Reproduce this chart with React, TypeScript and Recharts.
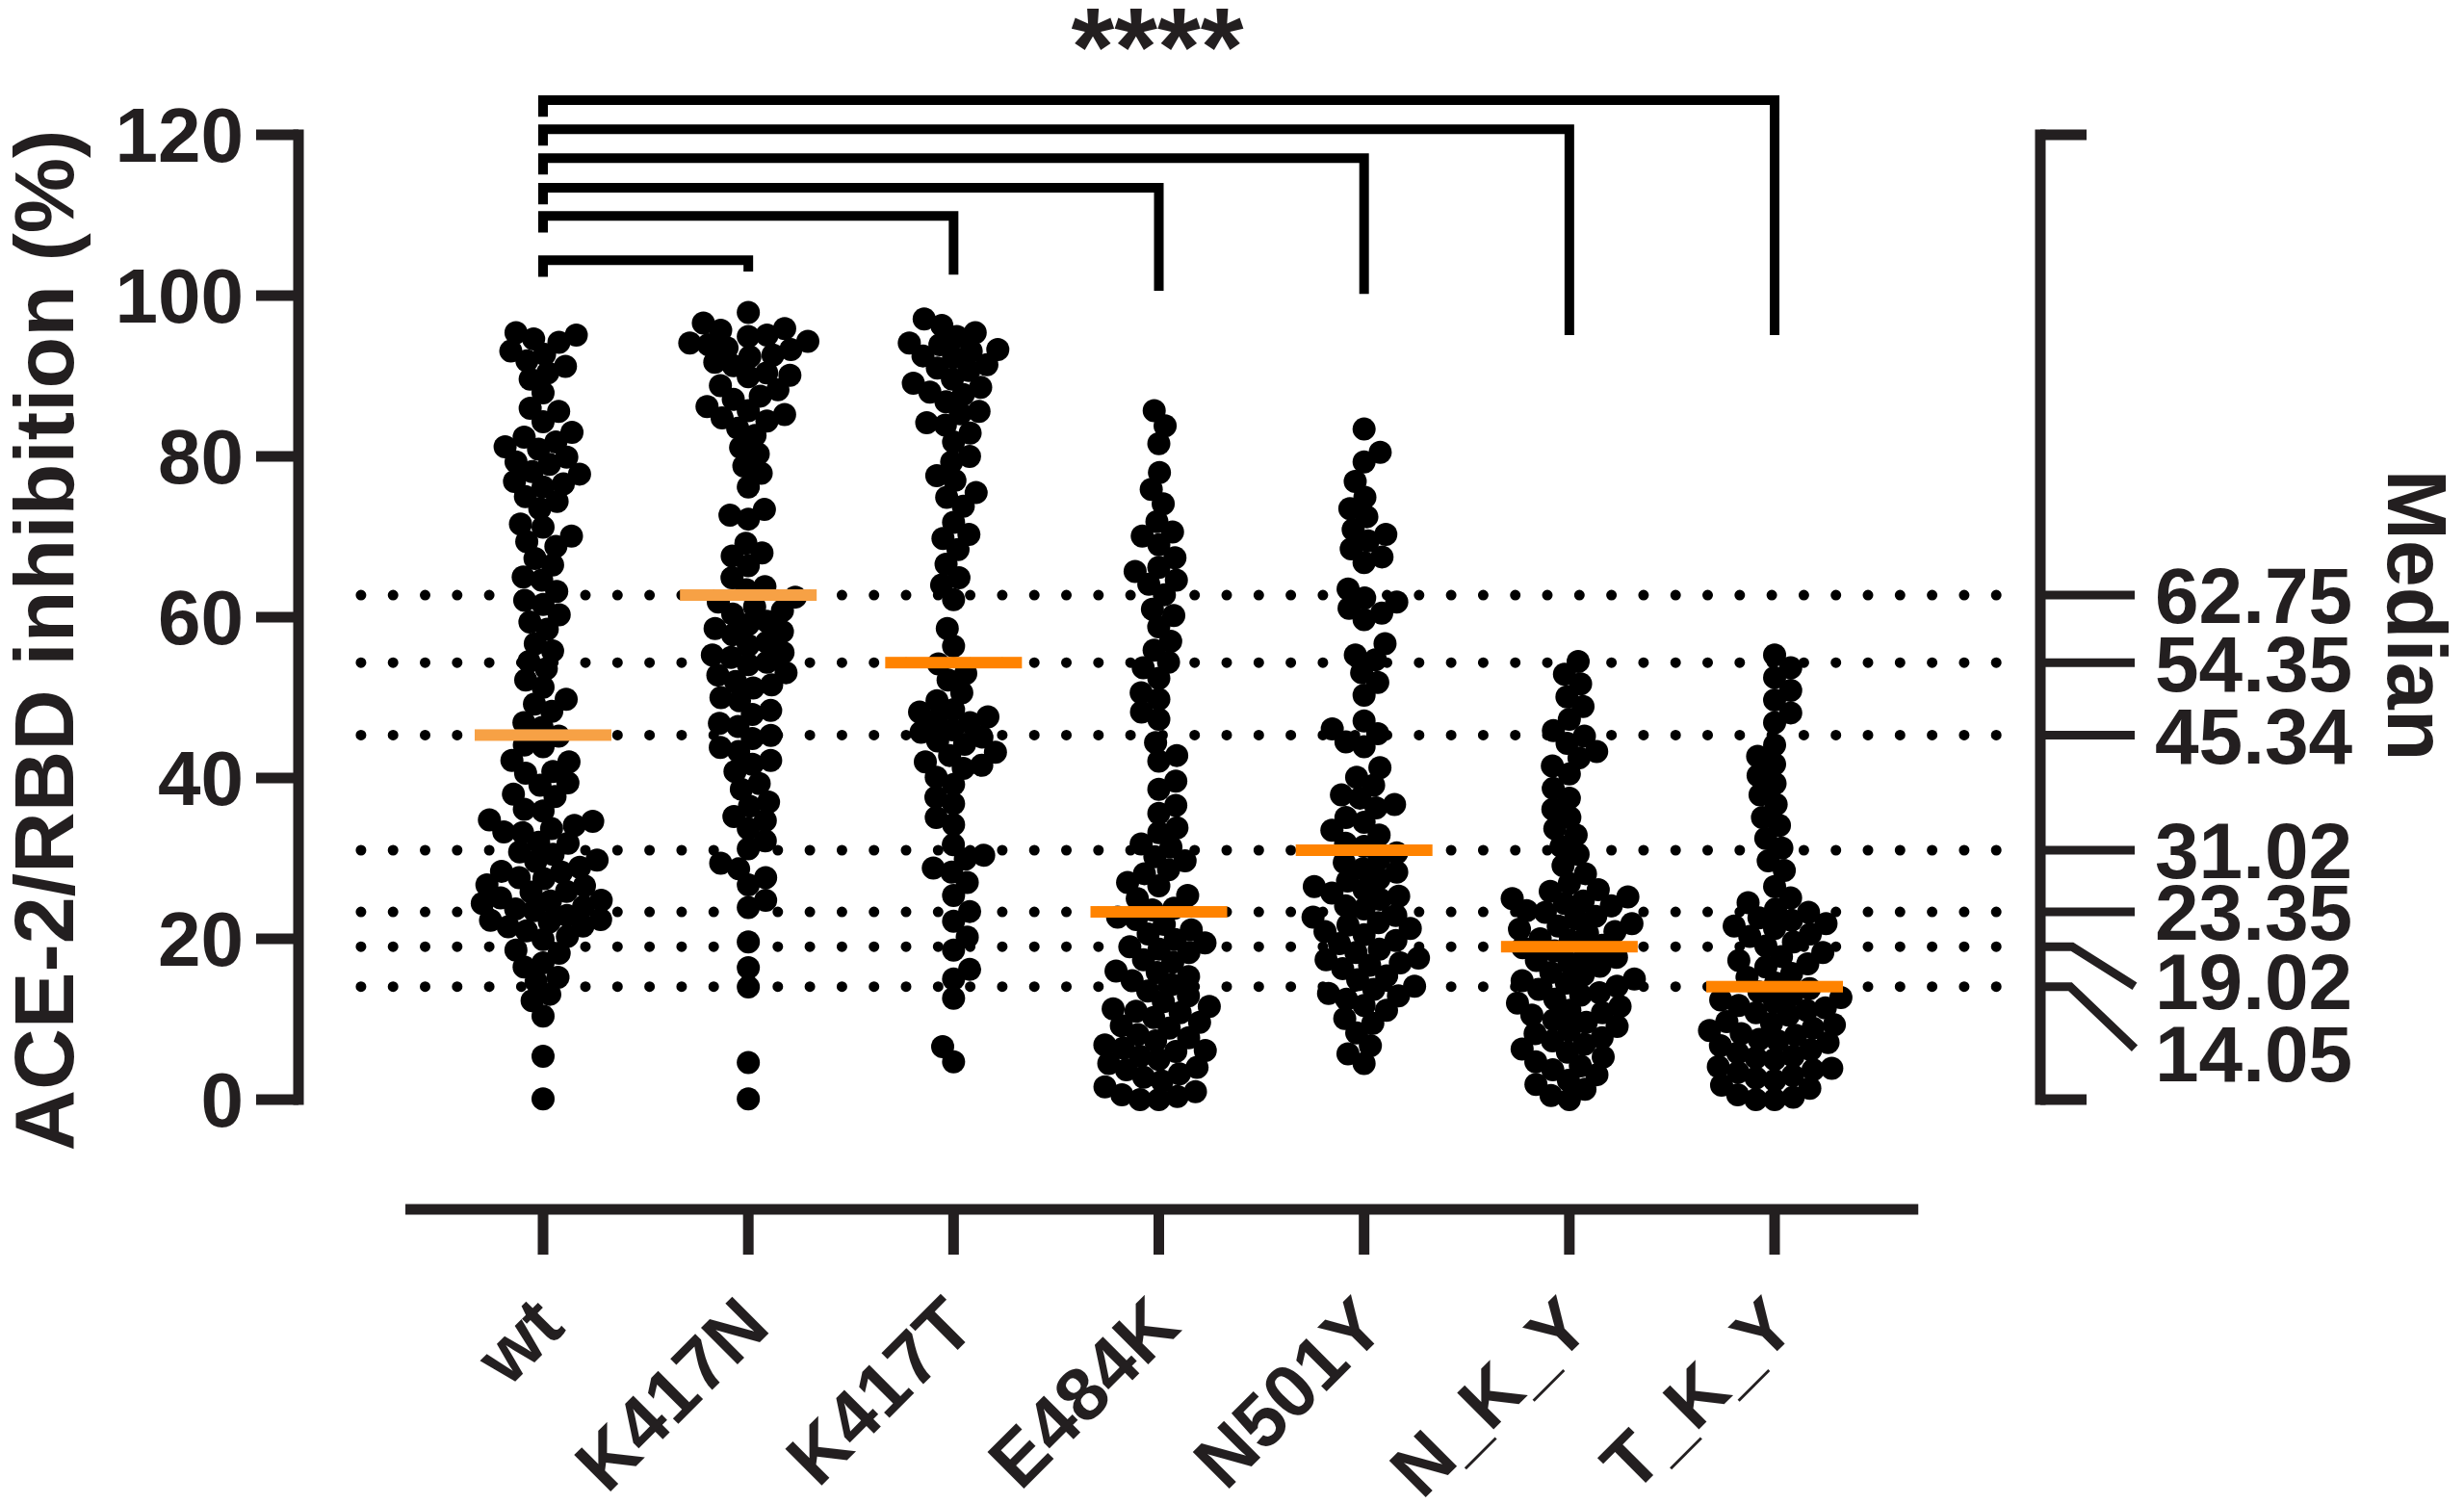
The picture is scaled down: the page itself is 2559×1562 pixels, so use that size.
import React from 'react';
import { ComposedChart, Scatter, Line, XAxis, YAxis } from 'recharts';

const FONT = '"Liberation Sans", Arial, Helvetica, sans-serif';
const INK = '#231f20';

const categories = ['wt', 'K417N', 'K417T', 'E484K', 'N501Y', 'N_K_Y', 'T_K_Y'];

const wtValues = [
  95.4, 95.1, 94.2, 94.6, 93.1, 92.7, 91.2, 91.9, 90.4, 89.6,
  87.9, 86.0, 85.6, 84.3,
  83.0, 82.4, 81.2, 80.9, 79.9, 79.3, 78.1, 77.8, 76.6, 76.2, 75.0, 74.4, 76.9, 79.0, 81.8,
  73.5, 71.6, 71.2, 70.1, 69.4, 68.8, 67.3, 66.5, 65.0, 64.6, 63.2,
  62.1, 61.6, 60.3, 59.4, 58.5, 56.7, 55.8, 54.5,
  53.6, 52.2, 51.3, 49.8, 49.2, 48.3, 46.9, 46.3,
  45.2, 44.1, 43.9, 42.2, 42.0, 40.8, 40.6, 39.4, 39.1, 38.0, 37.7, 36.1, 35.9, 34.8, 34.6,
  34.1, 33.3, 33.2, 32.0, 31.9, 30.8, 30.5, 29.8, 29.6, 28.9, 28.4, 28.3, 27.6, 33.7,
  27.5, 26.7, 26.6, 25.9, 25.8, 25.1, 24.8, 24.7, 24.0, 23.7, 23.5, 22.9, 22.4, 22.3, 21.6, 21.5, 21.0,
  22.1, 24.4,
  20.3, 19.9, 18.6, 18.2, 17.0, 16.5, 15.2, 14.7,
  13.1, 12.3, 10.4,
  5.4, 0.1,
];

const k417nValues = [
  97.9, 96.6, 95.9, 95.7, 95.1, 94.9, 94.3, 94.1, 93.5, 93.3, 92.6, 92.4, 91.7, 91.3, 90.4, 89.9,
  88.8, 88.3, 87.5, 87.1, 86.2, 85.7, 84.8, 84.4, 83.5, 82.6, 81.1, 80.3, 78.8, 77.9, 76.2,
  85.2, 90.1, 93.9,
  73.4, 72.7, 72.2,
  69.2, 68.0, 67.6, 66.4,
  64.9, 63.8, 63.4, 62.5,
  61.9, 60.8, 60.4, 59.5, 59.1, 58.2, 57.8, 56.9, 56.5, 55.6, 55.3, 54.4, 54.1, 53.1, 52.8, 51.6, 51.2, 50.0, 49.6,
  52.0, 55.0, 58.6, 61.3,
  48.4, 47.9, 46.8, 46.4, 45.3, 44.9, 43.8, 43.3, 42.2, 41.7,
  40.8, 39.3, 38.6, 37.0, 36.5, 35.2, 34.7,
  33.7, 32.2, 31.2, 29.4, 28.7, 27.6,
  26.7, 24.8, 23.9,
  19.6, 16.4, 14.0,
  4.6, 0.1,
];

const k417tValues = [
  97.1, 96.3, 95.4,
  94.9, 94.1, 93.9, 93.3, 93.1, 92.5, 92.3,
  91.4, 90.7, 89.6, 89.1, 88.0, 87.7, 88.6, 91.0,
  86.8, 85.6, 85.3, 84.2, 83.9, 82.9,
  81.8, 80.0, 79.3, 77.6, 77.0, 75.5, 74.9, 73.8,
  71.8, 70.3, 69.8, 68.4,
  66.6, 64.9, 64.0, 62.2,
  58.6, 56.4,
  54.2, 53.0, 52.2, 50.6,
  49.6, 48.5, 48.2, 47.2, 46.9, 46.0, 45.7, 44.6, 44.2, 43.2, 42.8, 41.6, 41.2, 40.1,
  42.0, 45.1, 47.6,
  39.2, 37.6, 36.8, 35.1, 34.2,
  31.7, 30.4, 29.9, 28.8, 28.3, 27.0,
  25.4, 23.4, 22.2, 20.2,
  18.6, 16.2, 15.0, 12.6,
  6.6, 4.7,
];

const e484kValues = [
  85.7, 83.8, 81.6, 78.0, 75.9, 74.1,
  71.9, 70.6, 70.1, 69.0,
  67.4, 66.2, 65.7, 64.6, 64.1,
  62.8, 61.0, 60.2,
  58.8, 57.0, 55.9, 54.4, 53.7,
  52.4, 50.6, 49.8, 48.2, 47.3,
  44.4, 42.8, 42.1,
  39.6, 38.6, 36.6, 35.6, 33.8,
  33.2, 31.8, 31.4, 30.2, 29.7, 28.6, 28.1, 27.0,
  26.6, 25.4, 25.0, 23.8, 23.6, 22.7,
  22.4, 21.8, 21.1, 20.6, 19.9, 19.5, 18.7, 18.3, 17.4, 17.1, 16.0, 15.8, 14.8, 14.3, 13.5, 12.9,
  12.2, 11.6, 10.8, 10.2, 9.6, 8.9, 8.1, 7.7, 6.8, 6.4, 5.4, 5.0, 4.0, 3.7, 2.8, 2.3,
  6.0, 11.3, 15.3, 19.0,
  3.2, 4.5, 6.1, 7.3, 9.2, 11.0,
  1.0, 0.4, 0.0, 0.0, 0.6, 1.6,
];

const n501yValues = [
  83.4, 80.5, 79.3, 76.9, 74.9, 73.5, 72.5, 70.9, 70.3, 69.5, 68.5, 67.5, 66.8,
  63.5, 62.4, 61.9, 61.1, 60.5, 59.7,
  56.7, 55.3, 54.7,
  53.1, 51.9, 50.3,
  47.1, 46.1, 45.5, 44.5, 43.9,
  41.3, 40.1, 39.1,
  37.9, 37.5, 36.7, 36.3,
  35.1, 34.5, 33.5, 32.9, 31.9, 31.5,
  30.7, 29.9, 29.5, 28.7, 28.3, 27.5, 27.2,
  26.5, 26.1, 25.3, 24.9, 24.1, 23.7, 22.9, 22.7, 22.0,
  21.7, 20.9, 20.5, 19.8, 19.4, 18.7, 18.3, 17.6, 17.4, 16.7,
  16.3, 15.4, 14.9, 14.1, 13.7, 12.9, 12.5, 11.7,
  13.2, 17.0, 21.3, 25.7,
  11.1, 10.1, 9.5,
  8.3, 6.7, 5.7, 4.5,
];

const nkyValues = [
  54.5, 52.9, 51.7,
  50.1, 48.9,
  47.3, 45.9, 45.2,
  44.3, 43.3, 42.5, 41.5,
  40.5, 38.7, 37.5,
  36.1, 35.1, 33.7, 32.9,
  31.5, 30.5, 29.1, 28.1,
  26.9, 26.1, 25.9, 25.2, 25.0, 24.4, 24.1, 23.5, 23.3, 22.8,
  22.5, 21.9, 21.6, 20.9, 20.7, 20.0, 19.8, 19.2,
  18.9, 18.1, 17.7, 17.0, 16.6, 15.8, 15.5, 14.8, 14.5, 13.7, 13.3, 12.5, 17.3, 15.0, 13.0,
  14.1, 18.5, 21.2, 24.7,
  12.0, 11.1, 10.5, 9.6, 9.1, 8.2, 7.7, 6.9, 11.6, 9.9, 7.3,
  6.3, 5.3, 4.7, 3.7, 3.1,
  4.2, 5.9, 8.6, 10.8,
  2.4, 1.3, 0.5, 0.0, 1.9,
];

const tkyValues = [
  55.3, 53.7, 52.5, 50.9,
  49.7, 48.1, 46.9,
  44.1, 42.7, 41.7, 40.3, 39.3, 37.9,
  36.7, 35.1, 34.1, 32.5,
  31.3, 29.7, 28.5,
  26.5, 25.1,
  24.5, 23.7, 23.3, 22.6, 22.3, 21.6, 21.3, 20.6, 20.3, 19.6,
  19.1, 18.3, 17.8, 16.9, 16.5, 15.7, 15.2, 14.5,
  13.8, 13.4, 12.7, 12.4, 11.7, 11.4, 10.8,
  10.5, 9.7, 9.3, 8.6, 8.2, 7.5, 7.1, 6.7,
  6.2, 5.4, 5.0, 4.1, 3.7, 3.0, 2.7,
  8.0, 13.0, 17.3, 21.9,
  12.1, 9.5, 7.3, 5.2, 3.4,
  3.9, 5.8, 8.9, 11.1,
  2.4, 1.4, 0.6, 0.0, 0.0, 1.8, 0.3,
];

const groupValues = [wtValues, k417nValues, k417tValues, e484kValues, n501yValues, nkyValues, tkyValues];

const medians = [45.34, 62.75, 54.35, 23.35, 31.02, 19.02, 14.05];
const medianColors = ['#F7A145', '#F7A145', '#FF8300', '#FF8300', '#FF8300', '#FF8300', '#FF8300'];

const yTicks = [0, 20, 40, 60, 80, 100, 120];
const medianTicks = [0, 14.05, 19.02, 23.35, 31.02, 45.34, 54.35, 62.75, 120];

// wt compared with each other group
const bracketTargets = [1, 2, 3, 4, 5, 6];
const bracketTops = [104.4, 109.9, 113.4, 117.1, 120.7, 124.3];
const bracketEnds = [103.0, 102.6, 100.6, 100.2, 95.1, 95.1];
const significance = '****';

// ---- layout constants ----
const W = 2559;
const H = 1562;
const X_MIN = -1.1915;
const X_MAX = 7.2946;
const Y_MIN = -13.65;
const Y_MAX = 130;
const PX_PER_X = 213.17;
const PX_PER_Y = 8.35;
const DOT_R = 12;
const SWARM_D = 19.5;

function swarmOffsets(values: number[]): number[] {
  const order = values.map((_, i) => i).sort((a, b) => values[a] - values[b]);
  const placed: { x: number; y: number }[] = [];
  const out = new Array(values.length).fill(0);
  let flip = 1;
  for (const i of order) {
    const y = values[i] * PX_PER_Y;
    const near = placed.filter((p) => Math.abs(p.y - y) < SWARM_D);
    const cands = [0];
    for (const p of near) {
      const dx = Math.sqrt(SWARM_D * SWARM_D - (p.y - y) * (p.y - y));
      cands.push(p.x + dx, p.x - dx);
    }
    cands.sort((a, b) => Math.abs(a) - Math.abs(b) || (b - a) * flip);
    let chosen = 0;
    for (const c of cands) {
      if (near.every((p) => (p.x - c) * (p.x - c) + (p.y - y) * (p.y - y) >= SWARM_D * SWARM_D - 0.01)) {
        chosen = c;
        break;
      }
    }
    flip = -flip;
    placed.push({ x: chosen, y });
    out[i] = chosen;
  }
  return out;
}

const scatterData = groupValues.flatMap((vals, g) => {
  const off = swarmOffsets(vals);
  return vals.map((v, i) => ({ x: g + off[i] / PX_PER_X, y: v }));
});

const medianData = medians.map((m, g) => ({ x: g, y: m, color: medianColors[g] }));

const dottedLines = medians.map((m) => [
  { x: -0.887, y: m },
  { x: 7.177, y: m },
]);

const brackets = bracketTargets.map((t, k) => [
  { x: 0, y: bracketTops[k] - 2.05 },
  { x: 0, y: bracketTops[k] },
  { x: t, y: bracketTops[k] },
  { x: t, y: bracketEnds[k] },
]);

const leftAxisLine = [
  { x: X_MIN, y: 0 },
  { x: X_MIN, y: 120 },
];
const rightAxisLine = [
  { x: X_MAX, y: 0 },
  { x: X_MAX, y: 120 },
];
const xAxisLine = [
  { x: -0.6707, y: Y_MIN },
  { x: 6.7, y: Y_MIN },
];

const Dot = (p: any) => <circle cx={p.cx} cy={p.cy} r={DOT_R} fill="#000" />;
const MedianBar = (p: any) => (
  <rect x={p.cx - 71} y={p.cy - 6} width={142} height={12} fill={p.payload.color} />
);

const XTick = (props: any) => {
  const { x, y, payload } = props;
  const px = x + 25;
  const py = y + 78;
  return (
    <text
      x={px}
      y={py}
      transform={`rotate(-45, ${px}, ${py})`}
      textAnchor="end"
      fontSize={78}
      fontWeight="bold"
      fontFamily={FONT}
      fill={INK}
    >
      {categories[payload.value]}
    </text>
  );
};

const YTick = (props: any) => {
  const { x, y, payload } = props;
  return (
    <text x={x} y={y} dy="0.355em" textAnchor="end" fontSize={80} fontWeight="bold" fontFamily={FONT} fill={INK}>
      {payload.value}
    </text>
  );
};

const RightTick = (props: any) => {
  const { x, y, payload } = props;
  const v = payload.value;
  if (v === 0 || v === 120) {
    return <line x1={x} x2={x + 48} y1={y} y2={y} stroke={INK} strokeWidth={11} />;
  }
  let path = `M${x},${y} H${x + 98}`;
  let ly = y;
  if (v === 19.02) {
    path = `M${x},${y} H${x + 33} L${x + 98},${y + 41}`;
    ly = y + 35;
  } else if (v === 14.05) {
    path = `M${x},${y} H${x + 31} L${x + 98},${y + 64}`;
    ly = y + 69;
  }
  return (
    <g>
      <path d={path} fill="none" stroke={INK} strokeWidth={9} />
      <text x={x + 119} y={ly} dy="0.358em" textAnchor="start" fontSize={82} fontWeight="bold" fontFamily={FONT} fill={INK}>
        {v.toFixed(2)}
      </text>
    </g>
  );
};

const YTitle = () => (
  <text
    x={76}
    y={665}
    transform="rotate(-90, 76, 665)"
    textAnchor="middle"
    fontSize={88}
    fontWeight="bold"
    fontFamily={FONT}
    fill={INK}
  >
    ACE-2/RBD inhibition (%)
  </text>
);

const MedianTitle = () => (
  <text
    x={2480}
    y={639}
    transform="rotate(90, 2480, 639)"
    textAnchor="middle"
    fontSize={88}
    fontWeight="bold"
    fontFamily={FONT}
    fill={INK}
  >
    Median
  </text>
);

const StarLabel = () => (
  <text x={1202} y={88} textAnchor="middle" fontSize={115} fontWeight="bold" fontFamily={FONT} fill={INK}>
    {significance}
  </text>
);

export default function App() {
  return (
    <div style={{ position: 'absolute', left: 0, top: 0, width: W, height: H, overflow: 'hidden', background: '#fff' }}>
      <ComposedChart width={W} height={H} margin={{ top: 56.5, right: 0, bottom: 0, left: 0 }}>
        <XAxis
          type="number"
          dataKey="x"
          domain={[X_MIN, X_MAX]}
          ticks={[0, 1, 2, 3, 4, 5, 6]}
          interval={0}
          height={306}
          axisLine={false}
          stroke={INK}
          tickLine={{ stroke: INK, strokeWidth: 11 }}
          tickSize={47}
          tickMargin={0}
          tick={<XTick />}
          label={<StarLabel />}
        />
        <YAxis
          yAxisId="l"
          type="number"
          dataKey="y"
          domain={[Y_MIN, Y_MAX]}
          ticks={yTicks}
          interval={0}
          width={310}
          axisLine={false}
          stroke={INK}
          tickLine={{ stroke: INK, strokeWidth: 11 }}
          tickSize={44}
          tickMargin={13}
          tick={<YTick />}
          label={<YTitle />}
        />
        <YAxis
          yAxisId="r"
          orientation="right"
          type="number"
          dataKey="y"
          domain={[Y_MIN, Y_MAX]}
          ticks={medianTicks}
          interval={0}
          width={440}
          axisLine={false}
          tickLine={false}
          tickSize={0}
          tickMargin={0}
          tick={<RightTick />}
          label={<MedianTitle />}
        />
        {dottedLines.map((d, i) => (
          <Line
            key={`dot-${i}`}
            yAxisId="l"
            data={d}
            dataKey="y"
            stroke="#000"
            strokeWidth={11}
            strokeDasharray="0 33.3"
            strokeLinecap="round"
            dot={false}
            activeDot={false}
            legendType="none"
            isAnimationActive={false}
          />
        ))}
        <Scatter yAxisId="l" data={scatterData} shape={<Dot />} isAnimationActive={false} legendType="none" />
        <Scatter yAxisId="l" data={medianData} shape={<MedianBar />} isAnimationActive={false} legendType="none" />
        {brackets.map((b, i) => (
          <Line
            key={`br-${i}`}
            yAxisId="l"
            data={b}
            dataKey="y"
            stroke="#000"
            strokeWidth={10}
            strokeLinejoin="miter"
            dot={false}
            activeDot={false}
            legendType="none"
            isAnimationActive={false}
          />
        ))}
        <Line yAxisId="l" data={leftAxisLine} dataKey="y" stroke={INK} strokeWidth={11} strokeLinecap="square" dot={false} activeDot={false} legendType="none" isAnimationActive={false} />
        <Line yAxisId="r" data={rightAxisLine} dataKey="y" stroke={INK} strokeWidth={11} strokeLinecap="square" dot={false} activeDot={false} legendType="none" isAnimationActive={false} />
        <Line yAxisId="l" data={xAxisLine} dataKey="y" stroke={INK} strokeWidth={11} dot={false} activeDot={false} legendType="none" isAnimationActive={false} />
      </ComposedChart>
    </div>
  );
}
